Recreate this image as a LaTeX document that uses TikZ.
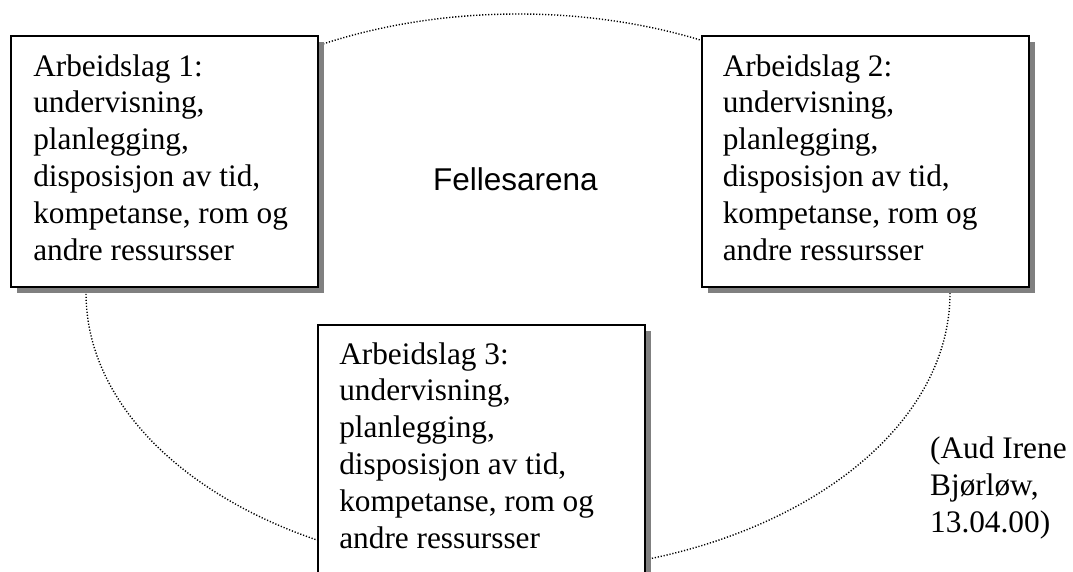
\documentclass[tikz,border=0pt]{standalone}
\usepackage{fontspec}
\setmainfont{Liberation Serif}
\newfontfamily\arialfont{Liberation Sans}
\usetikzlibrary{shadows}
\newcommand{\mybox}[5]{\parbox[t][#1][t]{#2}{\raggedright\leftskip=#4\relax\fontsize{31.3}{36.8}\selectfont\vspace*{#3}#5}}
\begin{document}
\begin{tikzpicture}[x=1pt,y=-1pt,
  wbox/.style={draw=black, line width=1.6pt, fill=white, inner sep=0pt, anchor=north west,
    drop shadow={shadow xshift=6pt, shadow yshift=-6pt, fill=black!50, opacity=1}},
  dotline/.style={line width=1.4pt, dash pattern=on 1.2pt off 1.8pt}]
\useasboundingbox (0,0) rectangle (1073,572);
\clip (0,0) rectangle (1073,572);
\fill[white] (0,0) rectangle (1073,572);
% ellipse (Fellesarena)
\draw[dotline] (518,293) ellipse [x radius=432, y radius=279];
\node[anchor=base west, inner sep=0pt, font=\arialfont\fontsize{31.5}{36}\selectfont] (fa) at (433,190) {Fellesarena};
% boxes
\node[wbox] (b1) at (10,35) {\mybox{251pt}{307pt}{18.6pt}{22.5pt}{Arbeidslag 1:\\undervisning,\\planlegging,\\disposisjon av tid,\\kompetanse, rom og\\andre ressursser}};
\node[wbox] (b2) at (701,35) {\mybox{251pt}{327pt}{18.6pt}{21pt}{Arbeidslag 2:\\undervisning,\\planlegging,\\disposisjon av tid,\\kompetanse, rom og\\andre ressursser}};
\node[wbox] (b3) at (317,324) {\mybox{280pt}{327pt}{17.6pt}{21.5pt}{Arbeidslag 3:\\undervisning,\\planlegging,\\disposisjon av tid,\\kompetanse, rom og\\andre ressursser}};
% author
\node[anchor=base west, inner sep=0pt] (au) at (930,458) {\parbox[t]{150pt}{\raggedright\fontsize{31.3}{37}\selectfont (Aud Irene\\Bjørløw,\\13.04.00)}};
\end{tikzpicture}
\end{document}
